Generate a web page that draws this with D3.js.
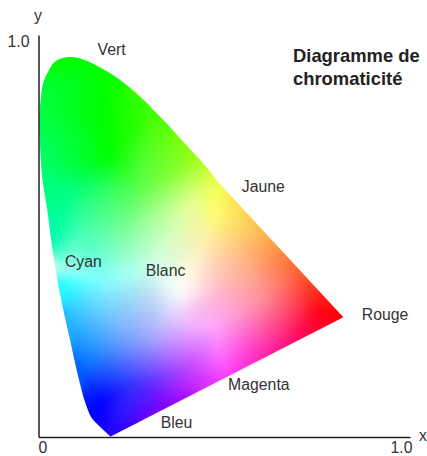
<!DOCTYPE html>
<html>
<head>
<meta charset="utf-8">
<script src="https://cdnjs.cloudflare.com/ajax/libs/d3/7.8.5/d3.min.js"></script>
<style>
    html, body { margin: 0; padding: 0; background: #fff; overflow: hidden; }
    text { font-family: "Liberation Sans", Arial, sans-serif; fill: #333; }
</style>
</head>
<body>
<svg id="chart" width="427" height="456"></svg>
<script>
// contour du diagramme
const curveX = [.199, .174, .147, .133, .114, .087, .057, .036, .024, .010, .004, .002, .006, .013, .027, .046, .082, .128, .174, .228, .280, .335, .390, .446, .501];
const curveY = [.001, .022, .047, .075, .134, .241, .366, .483, .565, .647, .731, .789, .838, .881, .909, .934, .945, .938, .917, .886, .847, .797, .744, .689, .629];
const rougeX = .841, rougeY = .298;

// couleurs
const colorX = [.197, .142, .109, .081, .059, .032, .004, 0, .059, .170, .308, .446, .506, .542, .611, .721, .846, .666, .514, .363,
    .183, .197, .087, .280, .418, .487, .459, .556, .390, .308, .170, .114, .225, .197, .308, .404, .487, .611, .721, .777, .252, .170, .142, .418, .556, .501, .080, .050];
const colorY = [0, .042, .167, .279, .378, .490, .664, .838, .950, .925, .813, .701, .644, .602, .527, .415, .299, .211, .147, .080,
    .764, .701, .614, .614, .590, .565, .490, .465, .366, .415, .391, .515, .490, .291, .241, .291, .266, .341, .316, .316, .129, .092, .216, .167, .216, .366, .420, .420];
const colorV = ['#2000ff', '#0000ff', '#0060ff', '#20b0ff', '#20ffff', '#00ffb0', '#00ff70', '#00ff40', '#00ff00', '#00ff00', '#40ff00', '#a0ff10', '#f0ff40', '#ffe050', '#ffc050', '#ff6030', '#ff0000', '#ff1090', '#ff40ff', '#9000ff',
    '#00ff00', '#00ff00', '#00ff80', '#60ff50', '#e0ff90', '#ffff70', '#fff0b0', '#ffc080', '#ffffff', '#ccffee', '#80ffff', '#40ffb0', '#80ffb0', '#70c0ff', '#a0a0ff', '#f0c0ff', '#ffa0ff', '#ff90a0', '#ff3050', '#ff0010', '#3030ff', '#0000ff', '#2090ff', '#c040ff', '#ff50e0', '#ffb8c8', '#a0ffee', '#c0ffee'];

const labelText = ['Vert', 'Jaune', 'Rouge', 'Magenta', 'Bleu', 'Cyan', 'Blanc'];
const labelX = [.163, .561, .892, .523, .337, .073, .296];
const labelY = [.950, .609, .291, .117, .022, .423, .401];
const titleLines = ['Diagramme de', 'chromaticité'];

const width = 427, height = 456;
const svg = d3.select('#chart');

const x = d3.scaleLinear().domain([0, 1.0248]).range([38.5, 410]);
const y = d3.scaleLinear().domain([0, 1]).range([437, 35]);

// fond de couleur : triangles de Delaunay interpolés puis adoucis
function colorField() {
    const pts = colorX.map((d, i) => [x(d), y(colorY[i])]);
    const rgbs = colorV.map(c => d3.rgb(c));
    const delaunay = d3.Delaunay.from(pts);

    const raw = document.createElement('canvas');
    raw.width = width;
    raw.height = height;
    const ctx = raw.getContext('2d');
    const img = ctx.createImageData(width, height);

    const put = (px, py, r, g, b) => {
        const k = (py * width + px) * 4;
        img.data[k] = r;
        img.data[k + 1] = g;
        img.data[k + 2] = b;
        img.data[k + 3] = 255;
    };

    // hors de l'enveloppe : point le plus proche
    for (let py = 0; py < height; py += 1) {
        for (let px = 0; px < width; px += 1) {
            const c = rgbs[delaunay.find(px, py)];
            put(px, py, c.r, c.g, c.b);
        }
    }

    const tri = delaunay.triangles;
    for (let t = 0; t < tri.length; t += 3) {
        const [a, b, c] = [tri[t], tri[t + 1], tri[t + 2]];
        const [ax, ay] = pts[a], [bx, by] = pts[b], [cx, cy] = pts[c];
        const det = (by - cy) * (ax - cx) + (cx - bx) * (ay - cy);
        const x0 = Math.max(0, Math.floor(Math.min(ax, bx, cx)));
        const x1 = Math.min(width - 1, Math.ceil(Math.max(ax, bx, cx)));
        const y0 = Math.max(0, Math.floor(Math.min(ay, by, cy)));
        const y1 = Math.min(height - 1, Math.ceil(Math.max(ay, by, cy)));
        for (let py = y0; py <= y1; py += 1) {
            for (let px = x0; px <= x1; px += 1) {
                const l1 = ((by - cy) * (px - cx) + (cx - bx) * (py - cy)) / det;
                const l2 = ((cy - ay) * (px - cx) + (ax - cx) * (py - cy)) / det;
                const l3 = 1 - l1 - l2;
                if (l1 < 0 || l2 < 0 || l3 < 0) continue;
                put(px, py,
                    l1 * rgbs[a].r + l2 * rgbs[b].r + l3 * rgbs[c].r,
                    l1 * rgbs[a].g + l2 * rgbs[b].g + l3 * rgbs[c].g,
                    l1 * rgbs[a].b + l2 * rgbs[b].b + l3 * rgbs[c].b);
            }
        }
    }
    ctx.putImageData(img, 0, 0);

    const soft = document.createElement('canvas');
    soft.width = width;
    soft.height = height;
    const sctx = soft.getContext('2d');
    sctx.drawImage(raw, 0, 0);
    sctx.filter = 'blur(4px)';
    sctx.drawImage(raw, 0, 0);
    return soft.toDataURL();
}

const outline = d3.line()
    .x((d, i) => x(curveX[i]))
    .y((d, i) => y(curveY[i]))
    .curve(d3.curveCatmullRom.alpha(0.5));

const shape = outline(curveX) + `L${x(rougeX)},${y(rougeY)}Z`;

svg.append('clipPath').attr('id', 'horseshoe')
    .append('path').attr('d', shape);

svg.append('image')
    .attr('href', colorField())
    .attr('width', width)
    .attr('height', height)
    .attr('clip-path', 'url(#horseshoe)');

// axes
const xAxis = svg.append('g')
    .attr('transform', `translate(0,${y(0)})`)
    .call(d3.axisBottom(x).tickValues([0, 1]).tickSize(0).tickFormat(d => d === 0 ? '0' : '1.0'));
const yAxis = svg.append('g')
    .attr('transform', `translate(${x(0)},0)`)
    .call(d3.axisLeft(y).tickValues([1]).tickSize(0).tickFormat(d3.format('.1f')));

[xAxis, yAxis].forEach(g => {
    g.select('.domain').attr('stroke', '#222').attr('stroke-width', 1.5);
    g.selectAll('text').style('font-size', '15.8px').attr('fill', '#333');
});
xAxis.selectAll('text').attr('dy', 0).attr('y', 16);
xAxis.select('.tick text').attr('dx', 4);
yAxis.selectAll('text').attr('dy', '0.75em').attr('x', -9);

svg.append('text').attr('x', 419).attr('y', 441).attr('font-size', 15.8).text('x');
svg.append('text').attr('x', 38).attr('y', 21).attr('text-anchor', 'middle').attr('font-size', 15.8).text('y');

svg.selectAll('.label')
    .data(labelText)
    .join('text')
    .attr('class', 'label')
    .attr('x', (d, i) => x(labelX[i]))
    .attr('y', (d, i) => y(labelY[i]))
    .attr('font-size', 15.8)
    .text(d => d);

svg.selectAll('.title')
    .data(titleLines)
    .join('text')
    .attr('class', 'title')
    .attr('x', 293)
    .attr('y', (d, i) => 62 + i * 23)
    .attr('font-size', 18.4)
    .attr('font-weight', 'bold')
    .style('fill', '#222')
    .text(d => d);
</script>
</body>
</html>
